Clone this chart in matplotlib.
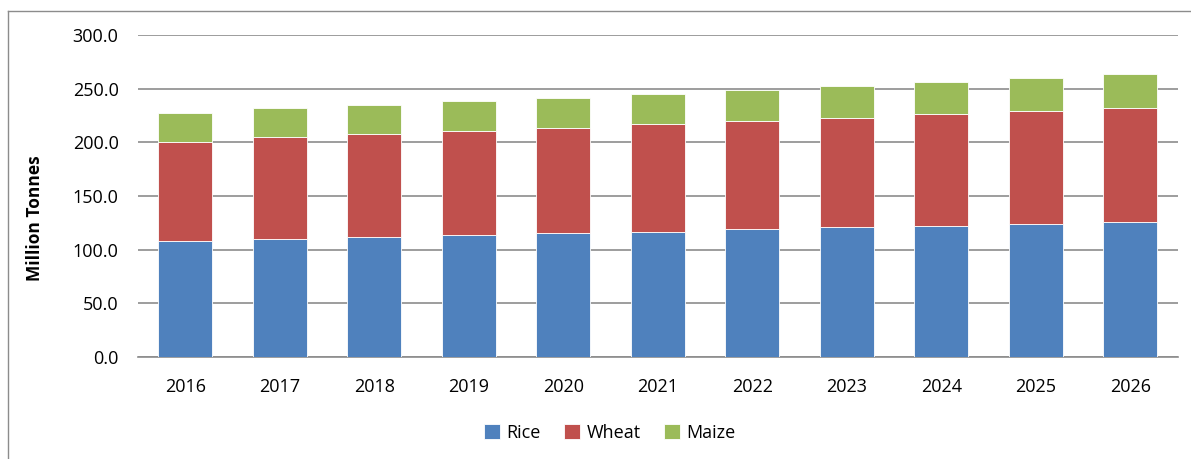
import numpy as np
import matplotlib.pyplot as plt
from matplotlib.lines import Line2D

years = ["2016", "2017", "2018", "2019", "2020", "2021", "2022", "2023", "2024", "2025", "2026"]
rice = [108.4, 110.0, 111.8, 113.4, 115.2, 116.8, 119.0, 120.8, 122.4, 124.2, 125.8]
wheat = [92.2, 95.3, 96.2, 97.5, 98.4, 100.0, 101.2, 102.2, 104.0, 105.3, 106.5]
maize = [26.4, 26.7, 26.8, 27.6, 28.0, 28.5, 28.8, 29.5, 29.6, 30.1, 31.1]

plt.rcParams['font.family'] = ['Open Sans', 'DejaVu Sans']

fig = plt.figure(figsize=(11.91, 4.59), dpi=100)
ax = fig.add_axes([0.1159, 0.2222, 0.8729, 0.7015])

x = np.arange(len(years))
w = 0.57
ec = 'white'
ax.bar(x, rice, w, color='#4f81bd', label='Rice', edgecolor=ec, linewidth=0.6, zorder=3)
ax.bar(x, wheat, w, bottom=rice, color='#c0504d', label='Wheat', edgecolor=ec, linewidth=0.6, zorder=3)
ax.bar(x, maize, w, bottom=np.array(rice) + np.array(wheat), color='#9bbb59', label='Maize',
       edgecolor=ec, linewidth=0.6, zorder=3)

ax.set_xlim(-0.5, len(years) - 0.5)
ax.set_ylim(0, 300)
ax.set_yticks(np.arange(0, 301, 50))
ax.set_yticklabels([f"{v:.1f}" for v in np.arange(0, 301, 50)], fontsize=13)
ax.set_xticks(x)
ax.set_xticklabels(years, fontsize=13)
ax.tick_params(axis='y', length=0, pad=14)
ax.tick_params(axis='x', length=0, pad=15)
ax.yaxis.grid(True, color='#8c8c8c', linewidth=1.2, zorder=0)
for s in ['top', 'right', 'left']:
    ax.spines[s].set_visible(False)
ax.spines['bottom'].set_color('#8c8c8c')
ax.spines['bottom'].set_linewidth(1.2)

ax.set_ylabel('Million Tonnes', fontsize=12.5, fontweight='bold')
ax.yaxis.set_label_coords(-0.0905, 0.43)

fig.legend(loc='center', bbox_to_anchor=(0.512, 0.057), ncol=3, frameon=False, fontsize=13,
           handlelength=0.9, handleheight=0.9, handletextpad=0.35, columnspacing=1.3)

# chart area border (cropped on right and bottom)
top_y = 1 - 11 / 459
left_x = 7.5 / 1191
fig.lines.append(Line2D([left_x, 1.0], [top_y, top_y], transform=fig.transFigure,
                        color='#8c8c8c', linewidth=1))
fig.lines.append(Line2D([left_x, left_x], [0, top_y], transform=fig.transFigure,
                        color='#8c8c8c', linewidth=1))

fig.savefig('out.png', dpi=100)
